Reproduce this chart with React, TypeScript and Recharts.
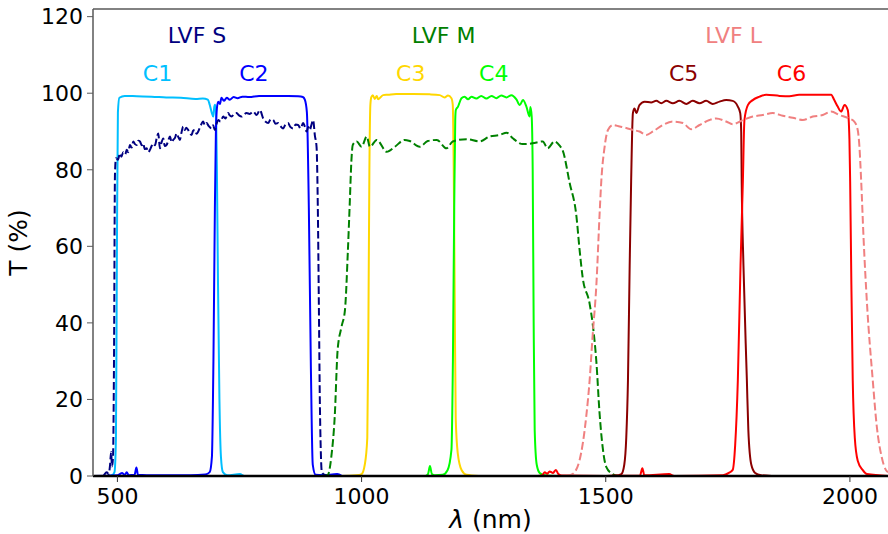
import { LineChart, Line, XAxis, YAxis, ReferenceLine, ReferenceDot } from "recharts";

type Pt = [number, number];

// transmission curves, [wavelength nm, T %]
const C1: Pt[] = [
  [450, 0], [480, 0], [490, 0.3], [494, 1], [497, 10], [499, 60], [501, 95], [504, 98.8],
  [515, 99.3], [540, 99.2], [570, 99.1], [600, 98.9], [630, 98.8], [660, 98.5], [675, 98.6],
  [685, 98.3], [689, 97], [693, 95], [696.3, 93.9], [698.4, 96.5], [699.6, 97], [701.5, 96],
  [703.7, 80], [706, 50], [708.9, 20], [712, 5], [716, 1], [725, 0.2], [751, 0.5], [760, 0],
  [900, 0], [920, 0.3], [940, 0],
];
const C2: Pt[] = [
  [450, 0], [500, 0.2], [510, 0.8], [515, 0.2], [519, 1], [523, 0.2], [535, 0.3], [539, 2.2],
  [542, 0.3], [560, 0.2], [650, 0.2], [680, 0.4], [689, 1], [693.5, 5], [696.6, 30], [699.6, 70],
  [701.7, 90], [703.7, 96], [706.4, 97.8], [710, 97.2], [713, 98.8], [718, 98], [724, 98.8],
  [730, 98.3], [738, 99], [746, 98.7], [756, 99.1], [770, 99], [790, 99.3], [820, 99.3],
  [850, 99.3], [870, 99.2], [879.7, 99], [883.8, 98.3], [888, 95], [892, 70], [896, 30],
  [900, 3], [906, 0.3], [920, 0.2], [950, 0.5], [960, 0],
];
const LVF_S: Pt[] = [
  [450, 0], [470, 0], [478, 1], [482, 0.5], [485, 3], [487, 6.3], [489, 2.5], [491, 5],
  [493, 30], [495, 79], [497.1, 83], [501, 82.6], [505.3, 84.3], [508, 83.4], [512, 84.6],
  [516, 84], [519, 85.2], [522, 84.6], [525.7, 86.5], [529, 85.8], [532.5, 87.4], [536, 86.7],
  [539.4, 86.5], [543, 87.6], [546.2, 87.4], [550, 86.4], [552.9, 86.9], [556, 85.4],
  [559.9, 85.6], [563, 84.6], [566.6, 85.2], [570, 86.2], [573.4, 86.9], [577, 86.4],
  [580.3, 88.2], [583.6, 89.5], [587.1, 85.6], [590, 87], [593.9, 88.2], [597, 86.2],
  [600.8, 86.5], [604, 87.6], [607.6, 88.7], [611, 87.2], [614.3, 87.8], [618, 88.4],
  [621.3, 89.5], [624.5, 88.6], [628, 87.8], [631, 89.6], [634.8, 91.3], [638, 90.4],
  [641, 91], [645, 90.4], [648, 89.6], [652, 89.1], [655, 90.2], [658.7, 90.4], [662, 89.4],
  [665.5, 90], [670, 91.4], [675.7, 92.6], [679, 91.6], [682.7, 92.2], [687, 91.4],
  [692.9, 90.8], [696, 91.6], [699.6, 90.4], [703, 92], [706.4, 93], [711, 92.6],
  [716.6, 93.9], [721, 93.4], [726.9, 94.8], [730, 94.2], [733.8, 93.9], [739, 94.6],
  [744.1, 94.8], [749, 94.2], [754.3, 93.9], [759, 94.4], [764.5, 94.8], [771, 94.6],
  [778, 95.2], [785, 94.3], [791.7, 95.6], [798.5, 93.4], [803, 92.6], [808.7, 92.2],
  [814, 93.2], [819, 93], [824, 92], [829.2, 92.2], [834, 91.4], [839.4, 90.8], [844, 91.8],
  [849.6, 92.2], [854, 91.2], [859.9, 90.8], [865, 91.8], [870.1, 91.7], [875, 90.8],
  [880.3, 92.2], [884, 91.2], [887.3, 90], [891, 91.2], [894, 90.4], [897, 91.6],
  [900.8, 93], [904.3, 89], [907.8, 86], [910.4, 70], [912.5, 45], [914.5, 20], [916.6, 6],
  [918.6, 1], [924.7, 0.3], [940, 0],
];
const C3: Pt[] = [
  [900, 0], [960, 0], [990, 0.2], [1000, 0.5], [1006.6, 3], [1011.7, 10], [1014, 40],
  [1016, 80], [1018, 97], [1020, 99], [1023, 99.5], [1027, 98.5], [1031, 99.3], [1034, 98.4],
  [1044, 99.5], [1054, 99.6], [1071, 99.8], [1105, 99.8], [1140, 99.7], [1160, 99.5],
  [1170, 98.9], [1177, 99.4], [1184, 98.7], [1186.7, 97], [1188.7, 80], [1190.8, 45],
  [1192.8, 15], [1196.9, 6], [1205, 1.5], [1215, 0.3], [1240, 0],
];
const C4: Pt[] = [
  [1100, 0], [1130, 0], [1136, 0.5], [1140, 2.6], [1144, 0.5], [1150, 0.2], [1166, 0.3],
  [1176, 1.5], [1184, 6.8], [1187, 30], [1189.7, 70], [1191.8, 93], [1193, 95.6],
  [1197.5, 96.5], [1204.5, 98.7], [1211, 99.1], [1218, 98.4], [1225, 99.1], [1235, 98.6],
  [1245, 99.3], [1255.6, 98.6], [1266, 99.3], [1276, 98.7], [1286, 99.4], [1296.6, 98.9],
  [1306.8, 99.5], [1317, 98.4], [1323.8, 96.9], [1330.5, 98.2], [1337.5, 96.5], [1344, 93.9],
  [1345.7, 96.4], [1348.3, 94], [1350.4, 80], [1352.4, 40], [1354.5, 12], [1358.6, 3],
  [1364.7, 0.8], [1375, 0.2], [1400, 0],
];
const LVF_M: Pt[] = [
  [900, 0], [925, 0], [931, 0.3], [938, 5], [945, 15.5], [951, 33], [959, 39], [966, 43.4],
  [972, 59], [976, 72], [979, 82], [982, 86.5], [990, 87.4], [1000, 86], [1010.6, 88.7],
  [1017, 86], [1031, 87.8], [1051.6, 84.7], [1068, 86], [1088, 87.8], [1098.6, 87.5],
  [1119, 86], [1135.5, 87.5], [1154, 87.8], [1174, 85.6], [1186.6, 87.4], [1215, 88],
  [1242, 87.4], [1262, 88.7], [1283, 89.1], [1297, 89.7], [1309, 88.3], [1330, 86.7],
  [1350, 86.9], [1371, 87.4], [1381, 85.6], [1395, 87.4], [1405.6, 86.3], [1412, 85],
  [1426, 76.6], [1440, 67.8], [1446.5, 59], [1452.6, 52], [1467, 45], [1473, 40],
  [1481, 29.5], [1487, 17], [1493.6, 7.6], [1501, 2.4], [1514, 0.5], [1525, 0],
];
const C5: Pt[] = [
  [1500, 0], [1520, 0.1], [1532, 0.5], [1538, 3], [1542, 10], [1545.5, 25], [1549, 55],
  [1552, 77], [1555.6, 94.8], [1559, 96], [1562.6, 94.8], [1569, 96.9], [1579.6, 97.8],
  [1593, 97.6], [1603.5, 98], [1613.7, 97.4], [1624, 98], [1637.5, 97.4], [1651, 98],
  [1665, 97.2], [1678, 98], [1692, 97.4], [1705.6, 98], [1719, 97.2], [1733, 97.8],
  [1746.7, 98.2], [1760, 98], [1770.5, 96.5], [1775.4, 94.8], [1777.4, 90], [1778.4, 77],
  [1782, 55], [1789, 25], [1792, 12], [1798, 3], [1806, 0.8], [1818, 0.2], [1840, 0],
];
const C6: Pt[] = [
  [1360, 0], [1370, 0.2], [1375, 1], [1380, 0.6], [1385, 1.2], [1392, 0.8], [1398, 1.6],
  [1403, 0.5], [1410, 0.1], [1500, 0], [1570, 0.1], [1575, 2], [1579, 0.2], [1630, 0.5],
  [1640, 0], [1740, 0.2], [1752, 0.8], [1760, 1.6], [1765, 8], [1770.5, 25], [1776, 55],
  [1780.8, 77], [1784, 93], [1791, 96.9], [1801, 98.2], [1815, 99.1], [1828.6, 99.6],
  [1856, 99.3], [1876, 99.2], [1896, 99.6], [1927, 99.6], [1961.6, 99.6], [1968, 98.2],
  [1975, 96.5], [1982, 95.2], [1989, 96.9], [1995.6, 95.6], [1999, 88], [2000.5, 77],
  [2003, 50], [2005.8, 25], [2010, 10], [2016, 4], [2026, 1.6], [2035, 0.5], [2078, 0],
];
const LVF_L: Pt[] = [
  [1420, 0], [1432, 0.5], [1446.5, 4.2], [1460, 15.5], [1467, 25], [1473, 36.4],
  [1481, 50.4], [1487.5, 68.7], [1491, 77.3], [1497.7, 86], [1504.5, 90.4], [1514.7, 91.7],
  [1528.4, 91.3], [1542, 90.9], [1555.6, 90.4], [1569, 90], [1583, 89.1], [1596.6, 90],
  [1617, 91.7], [1637.5, 92.6], [1658, 92.2], [1675, 90.6], [1692, 91.7], [1712.5, 93],
  [1726, 93.4], [1746.7, 92.6], [1760, 91.9], [1780.7, 93], [1801, 93.9], [1821.6, 94.3],
  [1842, 94.8], [1862.6, 94.1], [1883, 93.6], [1903.5, 93], [1924, 93.9], [1944.4, 94.3],
  [1961.6, 95.2], [1978.6, 94.3], [1998.3, 93.4], [2009, 92.6], [2016, 90.4], [2019.5, 86],
  [2023, 77.3], [2028, 62], [2035, 45], [2046.8, 25], [2055, 13], [2065, 5], [2073.5, 1.6],
  [2078, 1],
];

const xTicks = [500, 1000, 1500, 2000];
const yTicks = [0, 20, 40, 60, 80, 100, 120];

const series = [
  { key: "C1", pts: C1, color: "#00bfff", dashed: false },
  { key: "C2", pts: C2, color: "#0000ff", dashed: false },
  { key: "LVF S", pts: LVF_S, color: "#000080", dashed: true },
  { key: "C3", pts: C3, color: "#ffd700", dashed: false },
  { key: "C4", pts: C4, color: "#00ff00", dashed: false },
  { key: "LVF M", pts: LVF_M, color: "#008000", dashed: true },
  { key: "C5", pts: C5, color: "#8b0000", dashed: false },
  { key: "C6", pts: C6, color: "#ff0000", dashed: false },
  { key: "LVF L", pts: LVF_L, color: "#f08080", dashed: true },
];

// text annotations placed in data coordinates
const notes = [
  { text: "LVF S", x: 663, y: 115.2, color: "#000080" },
  { text: "C1", x: 582, y: 105.2, color: "#00bfff" },
  { text: "C2", x: 779.5, y: 105.2, color: "#0000ff" },
  { text: "LVF M", x: 1168, y: 115.2, color: "#008000" },
  { text: "C3", x: 1100.7, y: 105.2, color: "#ffd700" },
  { text: "C4", x: 1270.6, y: 105.2, color: "#00ff00" },
  { text: "LVF L", x: 1761.7, y: 115.2, color: "#f08080" },
  { text: "C5", x: 1659.4, y: 105.2, color: "#8b0000" },
  { text: "C6", x: 1880.4, y: 105.2, color: "#ff0000" },
];

const font = "DejaVu Sans";
const spine = "#595959";

export default function App() {
  return (
    <div style={{ position: "absolute", left: 0, top: 0, width: 888, height: 534, background: "#fff" }}>
      <LineChart width={888} height={534} margin={{ top: 9, right: 0, bottom: 0, left: 0 }} style={{ fontFamily: font }}>
        <XAxis
          type="number"
          dataKey="x"
          domain={[450, 2078]}
          allowDataOverflow
          ticks={xTicks}
          height={58}
          axisLine={false}
          tickLine={{ stroke: "#333" }}
          tickSize={6}
          tickMargin={6}
          tick={{ fill: "#000", fontSize: 22, fontFamily: font }}
          label={{
            content: (props: any) => {
              const vb = props.viewBox || {};
              return (
                <text x={vb.x + vb.width / 2} y={vb.y + 52} textAnchor="middle" fontSize={25} fontFamily={font} fill="#000">
                  <tspan fontStyle="italic">λ</tspan> (nm)
                </text>
              );
            },
          }}
        />
        <YAxis
          type="number"
          domain={[0, 122]}
          allowDataOverflow
          ticks={yTicks}
          width={93}
          axisLine={{ stroke: spine, strokeWidth: 1.5 }}
          tickLine={{ stroke: spine }}
          tickSize={6}
          tickMargin={4}
          tick={{ fill: "#000", fontSize: 22, fontFamily: font }}
          label={{
            content: (props: any) => {
              const vb = props.viewBox || {};
              const cy = vb.y + vb.height / 2;
              return (
                <text x={27} y={cy} transform={`rotate(-90 27 ${cy})`} textAnchor="middle" fontSize={25} fontFamily={font} fill="#000">
                  T (%)
                </text>
              );
            },
          }}
        />
        {series.map((s) => (
          <Line
            key={s.key}
            data={s.pts.map(([x, y]) => ({ x, y }))}
            dataKey="y"
            type="monotone"
            stroke={s.color}
            strokeWidth={2}
            strokeDasharray={s.dashed ? "7.7 3.3" : undefined}
            dot={false}
            activeDot={false}
            isAnimationActive={false}
          />
        ))}
        <ReferenceLine y={0} stroke="#000" strokeWidth={2.5} />
        <ReferenceLine y={122} stroke={spine} strokeWidth={1.5} />
        {notes.map((n) => (
          <ReferenceDot
            key={n.text}
            x={n.x}
            y={n.y}
            r={0}
            fill="none"
            stroke="none"
            ifOverflow="visible"
            label={{ value: n.text, position: "center", fill: n.color, fontSize: 22, fontFamily: font }}
          />
        ))}
      </LineChart>
    </div>
  );
}
